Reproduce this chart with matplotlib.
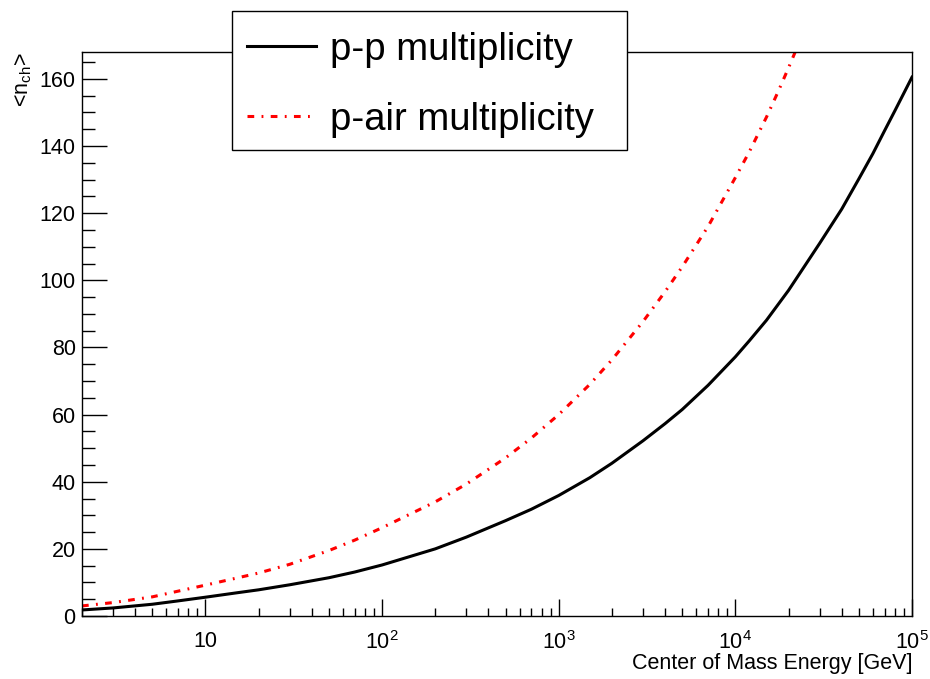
import numpy as np
import matplotlib
matplotlib.use("Agg")
import matplotlib.pyplot as plt
from matplotlib.lines import Line2D
from matplotlib.patches import Rectangle
from matplotlib.ticker import FixedLocator, LogLocator, MultipleLocator, FuncFormatter

plt.rcParams['font.family'] = ['Liberation Sans', 'DejaVu Sans']
plt.rcParams['mathtext.fontset'] = 'custom'
plt.rcParams['mathtext.rm'] = 'Liberation Sans'
plt.rcParams['mathtext.it'] = 'Liberation Sans:italic'

# центр масс энергии [GeV] и средняя множественность
energy_pp = [2, 3, 5, 7, 10, 15, 20, 30, 50, 70, 100, 200, 300, 500, 700,
             1e3, 1.5e3, 2e3, 3e3, 4e3, 5e3, 7e3, 1e4, 1.2e4, 1.5e4, 2e4, 2.5e4,
             3e4, 4e4, 5e4, 6e4, 7e4, 8e4, 1e5]
mult_pp = [1.8, 2.4, 3.5, 4.5, 5.6, 6.9, 7.8, 9.3, 11.4, 13.1, 15.2, 20.0, 23.5, 28.4, 31.8,
           35.9, 41.2, 45.5, 52.2, 57.3, 61.5, 68.7, 77.2, 82.0, 88.1, 97.0, 104.7,
           111.0, 121.2, 130.2, 137.7, 144.6, 150.5, 160.5]

energy_pair = [2, 3, 5, 7, 10, 15, 20, 30, 50, 70, 100, 200, 300, 500, 700,
               1e3, 1.5e3, 2e3, 3e3, 4e3, 5e3, 7e3, 1e4, 1.2e4, 1.5e4, 1.75e4, 2e4,
               2.5e4, 3e4]
mult_pair = [3.0, 4.0, 5.7, 7.4, 9.2, 11.3, 12.8, 15.4, 19.5, 22.6, 26.3, 34.0, 39.3, 47.1, 53.0,
             60.0, 69.0, 76.3, 87.7, 96.6, 104.0, 116.0, 130.6, 138.3, 148.6, 156.3, 163.3,
             175.4, 185.7]

labels = ["p-p multiplicity", "p-air multiplicity"]
colors = ['black', 'red']
styles = ['-', (0, (2.2, 2.4, 0.6, 2.4))]

W, H = 930, 679
fig = plt.figure(figsize=(W / 100, H / 100), dpi=100)
ax = fig.add_axes([82 / W, 63 / H, 830 / W, 564 / H])

ax.plot(energy_pp, mult_pp, color=colors[0], lw=2.2, linestyle=styles[0])
ax.plot(energy_pair, mult_pair, color=colors[1], lw=2.2, linestyle=styles[1])

ax.set_xscale('log')
ax.set_xlim(2, 1e5)
ax.set_ylim(0, 168)

ax.yaxis.set_major_locator(MultipleLocator(20))
ax.yaxis.set_minor_locator(MultipleLocator(5))
ax.xaxis.set_major_locator(FixedLocator([10, 100, 1e3, 1e4, 1e5]))
ax.xaxis.set_minor_locator(LogLocator(base=10, subs=np.arange(2, 10)))


def fmt_x(v, pos):
    e = int(round(np.log10(v)))
    return "10" if e == 1 else r"$10^{%d}$" % e


ax.xaxis.set_major_formatter(FuncFormatter(fmt_x))
ax.xaxis.set_minor_formatter(FuncFormatter(lambda v, p: ""))

ax.tick_params(axis='both', which='both', direction='in', width=1.0,
               top=False, right=False, labelsize=15.5)
ax.tick_params(axis='y', which='major', length=18, pad=4.5)
ax.tick_params(axis='y', which='minor', length=9.5)
ax.tick_params(axis='x', which='major', length=12, pad=11)
ax.tick_params(axis='x', which='minor', length=5.5)
for s in ax.spines.values():
    s.set_linewidth(1.0)

fig.text(912 / W, 1 - 663 / H, "Center of Mass Energy [GeV]",
         ha='right', va='center', fontsize=15.5)
fig.text(24 / W, 1 - 52 / H, r"<n$_{\mathrm{ch}}$>", rotation=90,
         ha='center', va='top', fontsize=15.5)

# легенда в стиле ROOT
fig.patches.append(Rectangle((232 / W, 1 - 150 / H), 395 / W, 139 / H,
                             transform=fig.transFigure, facecolor='white',
                             edgecolor='black', lw=1.0, zorder=5))
row_y = [46, 116]
for lab, c, st, y in zip(labels, colors, styles, row_y):
    fig.lines.append(Line2D([247 / W, 316 / W], [1 - y / H, 1 - y / H],
                            transform=fig.transFigure, color=c, lw=2.2,
                            linestyle=st, zorder=6))
    fig.text(330 / W, 1 - (y + 14.5) / H, lab, ha='left', va='baseline',
             fontsize=27.5, zorder=6)

fig.savefig("out.png", dpi=100)
